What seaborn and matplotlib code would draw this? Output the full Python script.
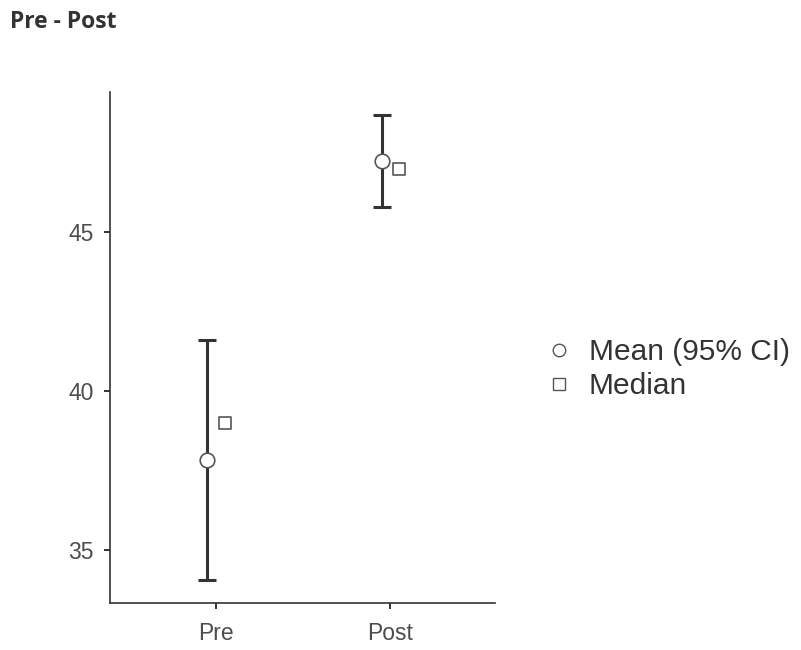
import pandas as pd
import numpy as np
import seaborn as sns
import matplotlib.pyplot as plt
from matplotlib.lines import Line2D

# data
groups = ['Pre', 'Post']
means = [37.83, 47.23]
ci_low = [34.06, 45.79]
ci_high = [41.62, 48.68]
medians = [39.0, 47.0]

sns.set_theme(style='ticks')
plt.rcParams['font.family'] = ['Liberation Sans', 'DejaVu Sans']

df = pd.DataFrame({'group': groups, 'mean': means, 'lo': ci_low, 'hi': ci_high, 'median': medians})
df['pos'] = np.arange(len(df))

fig = plt.figure(figsize=(8.01, 6.5), dpi=100)
ax = fig.add_axes([0.137, 0.072, 0.481, 0.786])

off = 0.05
ax.errorbar(df['pos'] - off, df['mean'], yerr=[df['mean'] - df['lo'], df['hi'] - df['mean']],
            fmt='none', ecolor='#333333', elinewidth=2.2, capsize=6.5, capthick=2.2, zorder=2)
sns.scatterplot(x=df['pos'] - off, y=df['mean'], marker='o', s=110, color='white',
                edgecolor='#555555', linewidth=1.2, ax=ax, zorder=3)
sns.scatterplot(x=df['pos'] + off, y=df['median'], marker='s', s=80, color='white',
                edgecolor='#555555', linewidth=1.2, ax=ax, zorder=3)

ax.set_xlim(-0.61, 1.6)
ax.set_ylim(33.33, 49.4)
ax.set_xticks(df['pos'])
ax.set_xticklabels(groups)
ax.set_yticks([35, 40, 45])
ax.set_xlabel('')
ax.set_ylabel('')
sns.despine(ax=ax)
for s in ['left', 'bottom']:
    ax.spines[s].set_color('#333333')
    ax.spines[s].set_linewidth(1.2)
ax.tick_params(axis='both', colors='#333333', labelcolor='#4d4d4d', labelsize=16.5, length=4.5, width=1.4)
ax.tick_params(axis='x', pad=9)
ax.tick_params(axis='y', pad=7)

fig.text(0.012, 0.966, 'Pre - Post', fontsize=16.5, fontweight='bold', color='#333333',
         family=['Open Sans', 'DejaVu Sans'], va='center')

handles = [Line2D([], [], marker='o', linestyle='none', markersize=9, markerfacecolor='white',
                  markeredgecolor='#555555', markeredgewidth=1.0),
           Line2D([], [], marker='s', linestyle='none', markersize=8, markerfacecolor='white',
                  markeredgecolor='#555555', markeredgewidth=1.0)]
fig.legend(handles, ['Mean (95% CI)', 'Median'], loc='center left', bbox_to_anchor=(0.683, 0.432),
           frameon=False, fontsize=21.5, handletextpad=0.6, labelspacing=0.2, handlelength=0.8,
           labelcolor='#333333', borderaxespad=0, borderpad=0)

fig.savefig('out.png', dpi=100)
